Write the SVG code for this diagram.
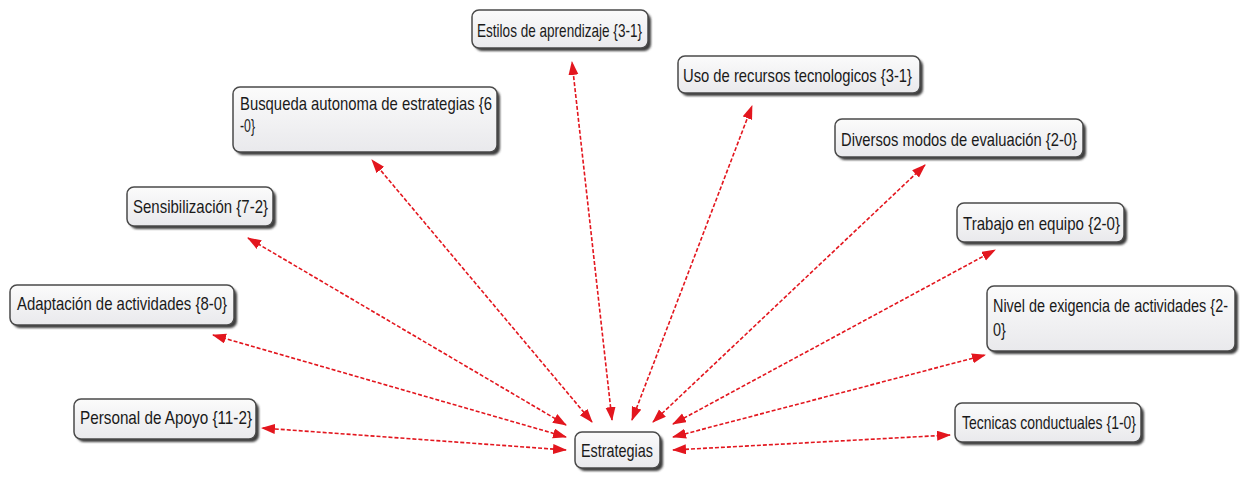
<svg xmlns="http://www.w3.org/2000/svg" width="1245" height="481" viewBox="0 0 1245 481">
<defs>
<linearGradient id="g" x1="0" y1="0" x2="0" y2="1">
<stop offset="0" stop-color="#fbfbfb"/>
<stop offset="1" stop-color="#e9e9ec"/>
</linearGradient>
<filter id="blur" x="-10%" y="-10%" width="120%" height="140%"><feGaussianBlur stdDeviation="1.2"/></filter>
<marker id="ah" markerUnits="userSpaceOnUse" markerWidth="15" markerHeight="11" refX="13" refY="5" orient="auto-start-reverse">
<path d="M0,0 L14,5 L0,10 z" fill="#e3161e"/>
</marker>
<style>
.sh{fill:#3c3c3c;filter:url(#blur)}
.bx{fill:url(#g);stroke:#4a4a4a;stroke-width:1.5}
.t{font-family:"Liberation Sans",Arial,sans-serif;font-size:19px;fill:#1a1a1a}
.c{stroke:#e3161e;stroke-width:1.6;stroke-dasharray:4 2;fill:none;marker-start:url(#ah);marker-end:url(#ah)}
</style>
</defs>
<rect width="1245" height="481" fill="#ffffff"/>
<g id="connectors">
<line class="c" x1="612" y1="420" x2="572" y2="62"/>
<line class="c" x1="632" y1="420" x2="752" y2="106"/>
<line class="c" x1="592" y1="422" x2="372" y2="160"/>
<line class="c" x1="653" y1="422" x2="925" y2="165"/>
<line class="c" x1="566" y1="425" x2="248" y2="238"/>
<line class="c" x1="673" y1="424" x2="995" y2="250"/>
<line class="c" x1="566" y1="437" x2="213" y2="335"/>
<line class="c" x1="673" y1="437" x2="985" y2="355"/>
<line class="c" x1="566" y1="450" x2="262" y2="428"/>
<line class="c" x1="673" y1="450" x2="950" y2="435"/>
</g>
<g id="n-estilos">
<rect class="sh" x="475" y="13" width="176" height="38" rx="7"/>
<rect class="bx" x="472" y="10" width="176" height="38" rx="7"/>
<text class="t" x="477" y="37" textLength="165" lengthAdjust="spacingAndGlyphs">Estilos de aprendizaje {3-1}</text>
</g>
<g id="n-uso">
<rect class="sh" x="681" y="59" width="242" height="37" rx="7"/>
<rect class="bx" x="678" y="56" width="242" height="37" rx="7"/>
<text class="t" x="683" y="82" textLength="229" lengthAdjust="spacingAndGlyphs">Uso de recursos tecnologicos {3-1}</text>
</g>
<g id="n-busqueda">
<rect class="sh" x="236" y="90" width="264" height="65" rx="7"/>
<rect class="bx" x="233" y="87" width="264" height="65" rx="7"/>
<text class="t" x="240" y="110" textLength="252" lengthAdjust="spacingAndGlyphs">Busqueda autonoma de estrategias {6</text>
<text class="t" x="240" y="132" textLength="15" lengthAdjust="spacingAndGlyphs">-0}</text>
</g>
<g id="n-diversos">
<rect class="sh" x="838" y="122" width="248" height="38" rx="7"/>
<rect class="bx" x="835" y="119" width="248" height="38" rx="7"/>
<text class="t" x="841" y="146" textLength="236" lengthAdjust="spacingAndGlyphs">Diversos modos de evaluación {2-0}</text>
</g>
<g id="n-sensibilizacion">
<rect class="sh" x="130" y="190" width="146" height="39" rx="7"/>
<rect class="bx" x="127" y="187" width="146" height="39" rx="7"/>
<text class="t" x="133" y="213" textLength="135" lengthAdjust="spacingAndGlyphs">Sensibilización {7-2}</text>
</g>
<g id="n-trabajo">
<rect class="sh" x="960" y="206" width="167" height="39" rx="7"/>
<rect class="bx" x="957" y="203" width="167" height="39" rx="7"/>
<text class="t" x="963" y="230" textLength="157" lengthAdjust="spacingAndGlyphs">Trabajo en equipo {2-0}</text>
</g>
<g id="n-adaptacion">
<rect class="sh" x="13" y="288" width="224" height="40" rx="7"/>
<rect class="bx" x="10" y="285" width="224" height="40" rx="7"/>
<text class="t" x="17" y="310" textLength="210" lengthAdjust="spacingAndGlyphs">Adaptación de actividades {8-0}</text>
</g>
<g id="n-nivel">
<rect class="sh" x="990" y="289" width="248" height="65" rx="7"/>
<rect class="bx" x="987" y="286" width="248" height="65" rx="7"/>
<g transform="translate(993,312) scale(0.76,1)">
<text class="t" x="0" y="0">Nivel de exigencia de actividades {2-</text>
<text class="t" x="0" y="24">0}</text>
</g>
</g>
<g id="n-personal">
<rect class="sh" x="77" y="402" width="182" height="40" rx="7"/>
<rect class="bx" x="74" y="399" width="182" height="40" rx="7"/>
<text class="t" x="80" y="424" textLength="172" lengthAdjust="spacingAndGlyphs">Personal de Apoyo {11-2}</text>
</g>
<g id="n-tecnicas">
<rect class="sh" x="958" y="406" width="186" height="39" rx="7"/>
<rect class="bx" x="955" y="403" width="186" height="39" rx="7"/>
<text class="t" x="962" y="429" textLength="174" lengthAdjust="spacingAndGlyphs">Tecnicas conductuales {1-0}</text>
</g>
<g id="n-estrategias">
<rect class="sh" x="578" y="435" width="85" height="36" rx="7"/>
<rect class="bx" x="575" y="432" width="85" height="36" rx="7"/>
<text class="t" x="581" y="457" textLength="72" lengthAdjust="spacingAndGlyphs">Estrategias</text>
</g>
</svg>
